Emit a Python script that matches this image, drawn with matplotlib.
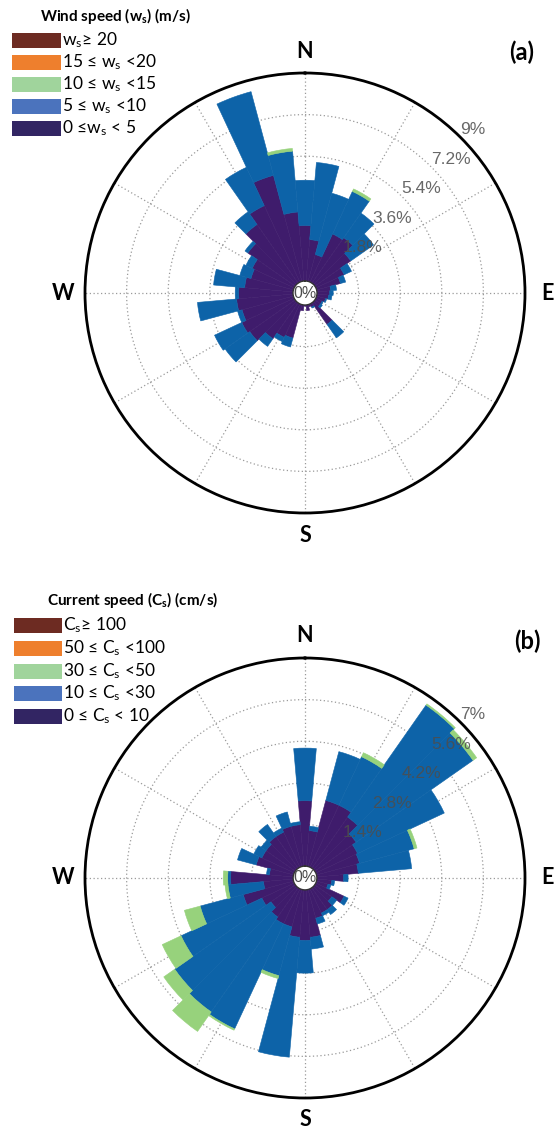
#!/usr/bin/env python3
"""Wind rose (a) and current rose (b), stacked vertically."""

import numpy as np
import matplotlib
matplotlib.use('Agg')
import matplotlib.pyplot as plt
from matplotlib.patches import Rectangle

plt.rcParams['font.family'] = ['Lato', 'DejaVu Sans']
plt.rcParams['mathtext.default'] = 'regular'

W, H = 559, 1137

# direction bins (deg from N, clockwise), 10 deg wide
DIRS = np.arange(0, 360, 10)

# (a) wind speed frequency (%) per speed class
WIND_0_5 = [2.4, 1.8, 1.2, 2.3, 2.4, 1.9, 1.35, 1.07, 0.6, 0.55, 0.5, 0.4,
            0.3, 0.3, 1.14, 0.15, 0.1, 0.25, 0.05, 0.25, 1.5, 1.6, 1.9, 2.4,
            2.5, 2.3, 2.45, 2.35, 2.1, 1.9, 2.0, 2.5, 3.1, 3.65, 4.75, 3.0]
WIND_5_10 = [1.96, 3.35, 2.75, 2.03, 1.3, 1.2, 0.35, 0.23, 0.25, 0.15, 0.15, 0.05,
             0.05, 0.1, 0.71, 0.05, 0.0, 0.0, 0.0, 0.0, 0.4, 0.2, 0.4, 1.3,
             1.3, 0.2, 1.7, 0.15, 1.35, 0.5, 0.3, 0.15, 0.67, 1.83, 3.75, 2.64]
WIND_10_15 = [0.0, 0.0, 0.0, 0.12, 0.0, 0.0, 0.0, 0.0, 0.0, 0.0, 0.0, 0.0,
              0.0, 0.0, 0.0, 0.0, 0.0, 0.0, 0.0, 0.0, 0.0, 0.0, 0.0, 0.0,
              0.0, 0.0, 0.0, 0.0, 0.0, 0.0, 0.0, 0.0, 0.0, 0.0, 0.0, 0.12]
WIND_15_20 = [0.0] * 36
WIND_20_UP = [0.0] * 36
WIND_RINGS = [1.8, 3.6, 5.4, 7.2, 9.0]

# (b) current speed frequency (%) per speed class
CUR_0_10 = [2.2, 1.2, 2.3, 2.3, 2.1, 1.7, 1.55, 1.5, 1.4, 0.9, 0.5, 0.4,
            1.05, 0.7, 0.9, 0.9, 1.0, 1.6, 1.7, 1.6, 1.3, 1.3, 1.2, 1.0,
            1.2, 1.75, 1.0, 2.1, 0.8, 1.3, 1.2, 1.2, 1.3, 1.3, 1.4, 1.4]
CUR_10_30 = [1.77, 0.15, 1.7, 1.8, 4.6, 4.8, 3.22, 1.9, 1.8, 0.15, 0.1, 0.1,
             0.15, 0.2, 0.2, 0.1, 0.2, 0.4, 1.1, 4.05, 1.7, 3.9, 3.9, 3.95,
             3.0, 1.5, 1.2, 0.1, 0.1, 0.65, 0.3, 0.2, 0.5, 0.15, 0.5, 0.1]
CUR_30_50 = [0.0, 0.0, 0.0, 0.15, 0.05, 0.15, 0.0, 0.1, 0.0, 0.0, 0.0, 0.0,
             0.0, 0.0, 0.0, 0.0, 0.0, 0.0, 0.0, 0.0, 0.1, 0.05, 0.8, 0.45,
             0.7, 0.55, 0.1, 0.15, 0.0, 0.0, 0.0, 0.0, 0.0, 0.0, 0.0, 0.0]
CUR_50_100 = [0.0] * 36
CUR_100_UP = [0.0] * 36
CUR_RINGS = [1.4, 2.8, 4.2, 5.6, 7.0]

WIND_LABELS = ['w$_s$≥ 20', '15 ≤ w$_s$ <20', '10 ≤ w$_s$ <15',
               '5 ≤ w$_s$ <10', '0 ≤w$_s$ < 5']
CUR_LABELS = ['C$_s$≥ 100', '50 ≤ C$_s$ <100', '30 ≤ C$_s$ <50',
              '10 ≤ C$_s$ <30', '0 ≤ C$_s$ < 10']

# bar colours, slowest class first
BAR_COLORS = ['#3f1c6c', '#0d63a8', '#97d27c', '#ef7f2d', '#6d2b22']
# legend swatches, top row first
LEG_COLORS = ['#6d2b22', '#ee7f2d', '#a0d49c', '#4b73bd', '#322563']
RING_TXT = '#4d4d4d'


def px(x, y):
    return x / W, 1 - y / H


def draw_rose(rect, bins, rings, hole):
    ax = fig.add_axes(rect, projection='polar')
    ax.set_theta_zero_location('N')
    ax.set_theta_direction(-1)
    theta = np.deg2rad(DIRS)
    bottom = np.zeros(len(DIRS))
    for vals, c in zip(bins, BAR_COLORS):
        vals = np.asarray(vals)
        keep = vals > 0
        if keep.any():
            ax.bar(theta[keep], vals[keep], width=np.deg2rad(10),
                   bottom=bottom[keep], color=c, edgecolor=c,
                   linewidth=0.4, zorder=2)
        bottom = bottom + vals
    ax.set_ylim(0, rings[-1])
    ax.set_rorigin(-hole)
    ax.set_rticks(rings[:-1])
    ax.set_yticklabels([])
    ax.set_xticks(np.deg2rad(np.arange(0, 360, 30)))
    ax.set_xticklabels([])
    ax.set_axisbelow(True)
    ax.grid(True, color='#9a9a9a', linestyle=(0, (1, 2)), linewidth=0.9)
    ax.spines['polar'].set_linewidth(2.0)
    ax.spines['polar'].set_color('black')
    ax.spines['inner'].set_linewidth(1.0)
    ax.spines['inner'].set_color('#333333')

    for v in rings:
        ax.text(np.deg2rad(45), v, f'{v:g}%', ha='left', va='bottom',
                fontsize=12.5, family='Liberation Sans', color=RING_TXT,
                alpha=0.85, zorder=5)
    ax.text(0.5, 0.5, '0%', transform=ax.transAxes, ha='center', va='center',
            fontsize=11.5, family='Liberation Sans', color=RING_TXT, zorder=5)

    r = 0.55
    for lab, (x, y) in zip('NESW', [(0.5, 0.5 + r), (0.5 + r, 0.5),
                                    (0.5, 0.5 - r), (0.5 - r, 0.5)]):
        ax.text(x, y, lab, transform=ax.transAxes, ha='center', va='center',
                fontsize=15.5, fontweight='bold')
    return ax


def draw_legend(title, tx, ty, labels, x0, x1, ys):
    fig.text(*px(tx, ty), title, fontsize=11, fontweight='bold',
             ha='left', va='center')
    for lab, c, y in zip(labels, LEG_COLORS, ys):
        fig.patches.append(Rectangle(px(x0, y + 7.5), (x1 - x0) / W, 15 / H,
                                     transform=fig.transFigure,
                                     facecolor=c, edgecolor='none'))
        fig.text(*px(x1 + 1, y), lab, fontsize=12.5, ha='left', va='center')


fig = plt.figure(figsize=(W / 100, H / 100), dpi=100)
fig.patch.set_facecolor('white')

# panel (a): centre (305, 293), outer radius 220 px
draw_rose([85 / W, (H - 513) / H, 440 / W, 440 / H],
          [WIND_0_5, WIND_5_10, WIND_10_15, WIND_15_20, WIND_20_UP],
          WIND_RINGS, hole=0.52)
draw_legend('Wind speed (w$_s$) (m/s)', 40, 16, WIND_LABELS,
            12, 61, [40, 62, 84, 106, 128])
fig.text(*px(522, 52), '(a)', fontsize=17, fontweight='bold',
         ha='center', va='center')

# panel (b): centre (305, 878)
draw_rose([85 / W, (H - 1098) / H, 440 / W, 440 / H],
          [CUR_0_10, CUR_10_30, CUR_30_50, CUR_50_100, CUR_100_UP],
          CUR_RINGS, hole=0.40)
draw_legend('Current speed (C$_s$) (cm/s)', 47, 600, CUR_LABELS,
            14, 62, [625, 648, 671, 693, 716])
fig.text(*px(527, 641), '(b)', fontsize=17, fontweight='bold',
         ha='center', va='center')

fig.savefig('out.png', dpi=100, facecolor='white')
print('saved out.png')
